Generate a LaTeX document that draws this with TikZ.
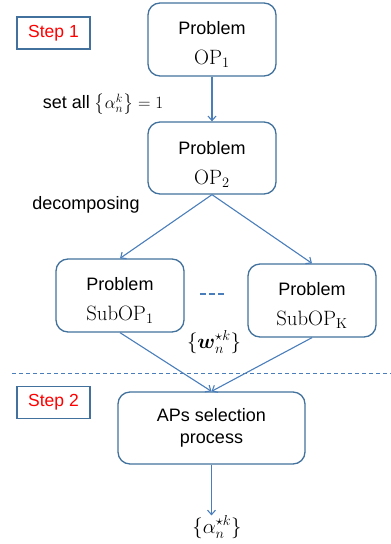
\documentclass[tikz,border=0pt]{standalone}
\usepackage{amsmath}
\usepackage[no-math]{fontspec}
\setmainfont{Liberation Sans}
\usetikzlibrary{arrows.meta}
\definecolor{boxblue}{RGB}{65,113,156}
\definecolor{arrblue}{RGB}{74,126,187}
\newcommand\pbtext[2]{\raisebox{#1}[\height][\depth]{\begin{tabular}{@{}c@{}}Problem\\[4pt] \fontsize{21}{21}\selectfont$#2$\end{tabular}}}
\begin{document}
\begin{tikzpicture}[x=1pt,y=-1pt,
  probbox/.style={draw=boxblue,line width=1.3pt,rounded corners=12pt,align=center,
    font=\fontsize{18}{26}\selectfont,inner sep=0pt},
  stepbox/.style={draw=boxblue,line width=1.2pt,text=red,minimum width=73pt,minimum height=32pt,
    inner sep=0pt,font=\fontsize{17.5}{20}\selectfont},
  conn/.style={draw=arrblue,line width=1.1pt,-{Straight Barb[length=4.5pt,width=8pt,line width=1.1pt]}},
  lbl/.style={font=\fontsize{18}{20}\selectfont,inner sep=0pt}]
\useasboundingbox (0,0) rectangle (391,544);
\node[stepbox] (step1) at (53.5,33) {Step 1};
\node[stepbox] (step2) at (53.5,402.5) {Step 2};
\node[probbox,minimum width=128pt,minimum height=73pt] (op1) at (212,39.5) {\pbtext{-5pt}{\mathrm{OP}_1}};
\node[probbox,minimum width=128pt,minimum height=72pt] (op2) at (212,158) {\pbtext{-6pt}{\mathrm{OP}_2}};
\node[probbox,minimum width=128pt,minimum height=73pt] (sub1) at (120,295.5) {\pbtext{-4.5pt}{\mathrm{SubOP}_1}};
\node[probbox,minimum width=128pt,minimum height=73pt] (subk) at (312,300.5) {\pbtext{-4.5pt}{\mathrm{SubOP}_\mathrm{K}}};
\node[probbox,minimum width=187pt,minimum height=72pt,font=\fontsize{18}{22}\selectfont] (ap) at (211.5,428) {APs selection\\ process};
\node[lbl] (setall) at (103,104) {set all $\left\{\alpha_n^k\right\}=1$};
\node[lbl] (decomp) at (86,205) {decomposing};
\node[lbl,font=\fontsize{22}{24}\selectfont] (wlab) at (214,342) {$\{\boldsymbol{w}_n^{\star k}\}$};
\node[lbl,font=\fontsize{22}{24}\selectfont] (alphaout) at (217,527) {$\{\alpha_n^{\star k}\}$};
\coordinate (dl) at (12,373);
\coordinate (dr) at (391,373);
\coordinate (dd1) at (200,294);
\coordinate (dd2) at (226,294);
\draw[arrblue,line width=0.9pt,dash pattern=on 4pt off 3pt] (dl) -- (dr);
\draw[arrblue,line width=1.6pt,dash pattern=on 6pt off 3pt] (dd1) -- (dd2);
\draw[conn] (op1.south) -- (op2.north);
\draw[conn] (op2.south) -- (sub1.north);
\draw[conn] (op2.south) -- (subk.north);
\draw[conn] (sub1.south) -- (ap.north);
\draw[conn] (subk.south) -- (ap.north);
\draw[conn] (ap.south) -- (ap.south |- alphaout.north);
\end{tikzpicture}
\end{document}
